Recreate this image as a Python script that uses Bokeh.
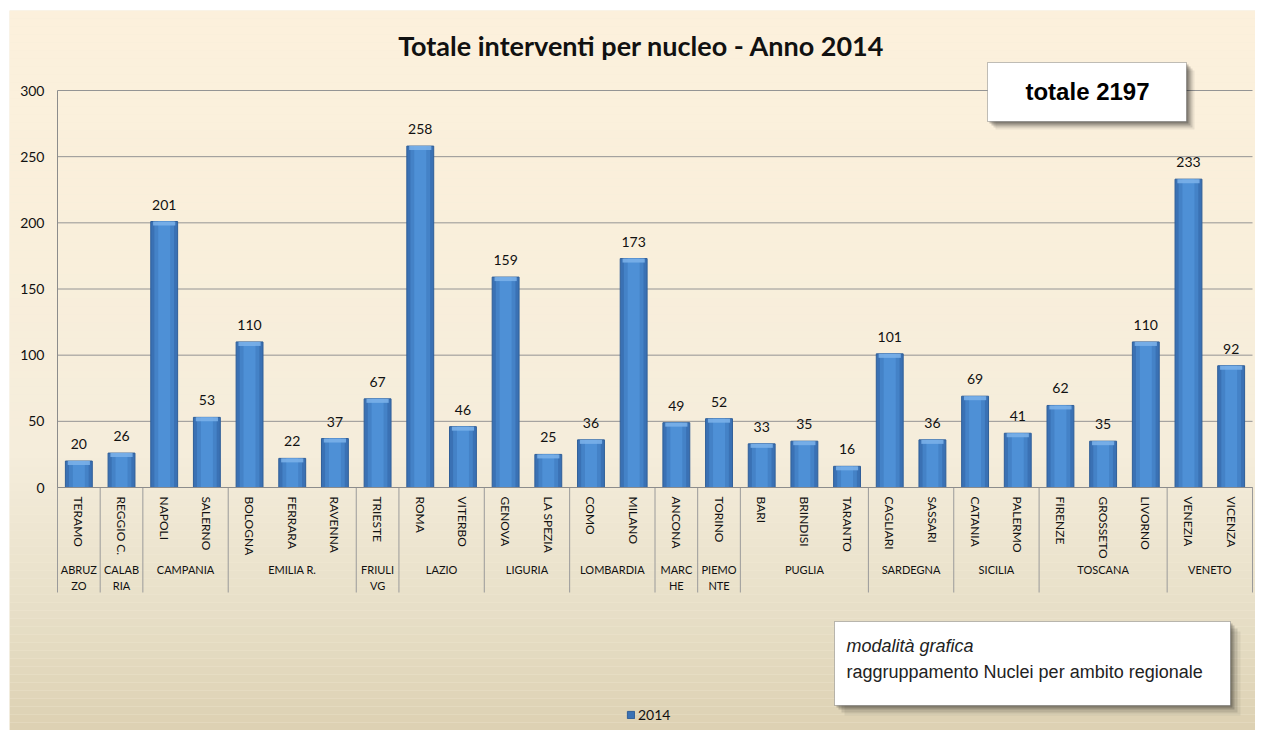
from bokeh.plotting import figure
from bokeh.models import (ColumnDataSource, Label, BoxAnnotation, Legend, LegendItem,
                          SingleIntervalTicker, FixedTicker, Range1d)
from bokeh.core.properties import value
from bokeh.embed import file_html
from bokeh.resources import INLINE

# ---------------- data ----------------
regions = ["ABRUZ\nZO", "CALAB\nRIA", "CAMPANIA", "CAMPANIA",
           "EMILIA R.", "EMILIA R.", "EMILIA R.", "FRIULI\nVG",
           "LAZIO", "LAZIO", "LIGURIA", "LIGURIA", "LOMBARDIA", "LOMBARDIA",
           "MARC\nHE", "PIEMO\nNTE", "PUGLIA", "PUGLIA", "PUGLIA",
           "SARDEGNA", "SARDEGNA", "SICILIA", "SICILIA",
           "TOSCANA", "TOSCANA", "TOSCANA", "VENETO", "VENETO"]
cities = ["TERAMO", "REGGIO C.", "NAPOLI", "SALERNO",
          "BOLOGNA", "FERRARA", "RAVENNA", "TRIESTE",
          "ROMA", "VITERBO", "GENOVA", "LA SPEZIA", "COMO", "MILANO",
          "ANCONA", "TORINO", "BARI", "BRINDISI", "TARANTO",
          "CAGLIARI", "SASSARI", "CATANIA", "PALERMO",
          "FIRENZE", "GROSSETO", "LIVORNO", "VENEZIA", "VICENZA"]
values_2014 = [20, 26, 201, 53, 110, 22, 37, 67, 258, 46, 159, 25, 36, 173,
               49, 52, 33, 35, 16, 101, 36, 69, 41, 62, 35, 110, 233, 92]
series_name = "2014"
y_tick_interval = 50
y_max = 300
title_text = "Totale interventi per nucleo - Anno 2014"
total_text = "totale " + str(sum(values_2014))
note_title = "modalità grafica"
note_text = "raggruppamento Nuclei per ambito regionale"

# ---------------- layout (pixels) ----------------
W, H = 1255, 730
ML, MT = 9, 10                  # white strips of the reference
FW, FH = W - ML, H - MT         # frame = whole cream area
AX_L, AX_R = 57 - ML, 1252 - ML  # plot-area edges inside frame (px from frame left)
AX_T, AX_B = 90 - MT, 487 - MT   # plot-area edges (px from frame top)

n = len(cities)
ux = (AX_R - AX_L) / n           # px per category
uy = (AX_B - AX_T) / y_max       # px per value unit
x_start = -AX_L / ux
x_end = n + (FW - AX_R) / ux
y_end = y_max + AX_T / uy
y_start = -(FH - AX_B) / uy

xs = [i + 0.5 for i in range(n)]
src = ColumnDataSource(dict(x=xs, top=values_2014, label=[str(v) for v in values_2014],
                            cap=[v - 4 / uy for v in values_2014]))

p = figure(width=W, height=H, x_range=Range1d(x_start, x_end),
           y_range=Range1d(y_start, y_end),
           output_backend="svg", toolbar_location=None,
           min_border_left=ML, min_border_right=0,
           min_border_top=MT, min_border_bottom=0)
p.outline_line_color = None
p.border_fill_color = "#ffffff"
p.background_fill_color = "#F4ECD8"

# background gradient bands (screen units: px from frame bottom-left)
stops = [(10, (252, 240, 220)), (250, (249, 239, 219)), (450, (245, 237, 219)),
         (600, (232, 224, 201)), (738, (220, 208, 177))]


def col_at(iy):
    for (y0, c0), (y1, c1) in zip(stops[:-1], stops[1:]):
        if y0 <= iy <= y1:
            t = (iy - y0) / (y1 - y0)
            return "#%02x%02x%02x" % tuple(int(round(a + (b - a) * t)) for a, b in zip(c0, c1))
    return "#%02x%02x%02x" % stops[-1][1]


band = 8
iy = MT
while iy < H:
    p.add_layout(BoxAnnotation(left=0, right=FW, top=H - iy, bottom=H - min(iy + band, H),
                               left_units="screen", right_units="screen",
                               top_units="screen", bottom_units="screen",
                               fill_color=col_at(iy + band / 2), fill_alpha=1,
                               line_color=None, level="underlay"))
    iy += band

# grid
grid_ticks = list(range(0, y_max + 1, y_tick_interval))
p.xgrid.grid_line_color = None
p.ygrid.grid_line_color = None
p.segment(x0=0, x1=n, y0=grid_ticks, y1=grid_ticks, line_color="#949494", line_width=1)

# bars (layered for a cylinder-like shading)
r1 = p.vbar(x="x", top="top", width=0.63, source=src,
            fill_color="#3A71B4", line_color="#2F5E98", line_width=1)
p.vbar(x="x", top="top", width=0.46, source=src, fill_color="#4482C7", line_color=None)
p.vbar(x="x", top="top", width=0.28, source=src, fill_color="#4E90D6", line_color=None)
p.vbar(x="x", top="top", bottom="cap", width=0.52, source=src,
       fill_color="#7DB3EA", fill_alpha=0.85, line_color=None)

p.text(x="x", y="top", text="label", source=src, text_align="center",
       text_baseline="bottom", y_offset=-12, text_font=value("Lato"),
       text_font_size="14px", text_color="#111111")

# y axis (inside frame at x=0)
ya = p.yaxis[0]
ya.fixed_location = 0
ya.bounds = (0, y_max)
ya.ticker = SingleIntervalTicker(interval=y_tick_interval)
ya.axis_line_color = "#8c8c8c"
ya.major_tick_line_color = None
ya.minor_tick_line_color = None
ya.major_label_standoff = 7
ya.major_label_text_font = "Lato"
ya.major_label_text_font_size = "14px"
ya.major_label_text_color = "#111111"

# x axis (inside frame at y=0) with city labels
xa = p.xaxis[0]
xa.fixed_location = 0
xa.bounds = (0, n)
xa.ticker = FixedTicker(ticks=xs)
xa.major_label_overrides = {x: c for x, c in zip(xs, cities)}
xa.axis_line_color = "#8c8c8c"
xa.major_tick_line_color = None
xa.minor_tick_line_color = None
xa.major_label_orientation = "vertical"
xa.major_label_standoff = 3
xa.major_label_text_font = "Lato"
xa.major_label_text_font_size = "12px"
xa.major_label_text_color = "#111111"

# region groups: labels and separators
bounds = [0] + [i for i in range(1, n) if regions[i] != regions[i - 1]] + [n]
grp_x = [(a + b) / 2 for a, b in zip(bounds[:-1], bounds[1:])]
grp_names = [regions[a] for a in bounds[:-1]]
p.text(x=grp_x, y=0, text=grp_names, y_offset=75, text_align="center",
       text_baseline="top", text_font=value("Lato"), text_font_size="11px",
       text_line_height=1.3, text_color="#111111")
sep_depth = 105 / uy
p.segment(x0=bounds, x1=bounds, y0=0, y1=-sep_depth, line_color="#9a9a9a", line_width=1)

# title
p.add_layout(Label(x=641 - ML, y=H - 45, x_units="screen", y_units="screen", text=title_text,
                   text_align="center", text_baseline="middle", text_font="Lato",
                   text_font_style="bold", text_font_size="27px", text_color="#111111"))


def box(l, r, t, b, **kw):
    return BoxAnnotation(left=l - ML, right=r - ML, top=H - t, bottom=H - b,
                         left_units="screen", right_units="screen",
                         top_units="screen", bottom_units="screen", **kw)


# total box with shadow
for off, a in [(8, 0.07), (6, 0.12), (4, 0.18), (2, 0.22)]:
    p.add_layout(box(987 + off, 1186 + off, 62 + off, 121 + off,
                     fill_color="#000000", fill_alpha=a, line_color=None))
p.add_layout(box(987, 1186, 62, 121, fill_color="#ffffff", fill_alpha=1,
                 line_color="#333333", line_width=1))
p.add_layout(Label(x=1087 - ML, y=H - 91, x_units="screen", y_units="screen", text=total_text,
                   text_align="center", text_baseline="middle", text_font="Liberation Sans",
                   text_font_style="bold", text_font_size="24px", text_color="#000000"))

# note box with shadow
for off, a in [(10, 0.06), (7, 0.11), (4, 0.16), (2, 0.2)]:
    p.add_layout(box(834 + off, 1230 + off, 621 + off, 705 + off,
                     fill_color="#000000", fill_alpha=a, line_color=None))
p.add_layout(box(834, 1230, 621, 705, fill_color="#ffffff", fill_alpha=1,
                 line_color="#333333", line_width=1))
p.add_layout(Label(x=846 - ML, y=H - 645, x_units="screen", y_units="screen", text=note_title,
                   text_align="left", text_baseline="middle", text_font="Liberation Sans",
                   text_font_style="italic", text_font_size="18px", text_color="#222222"))
p.add_layout(Label(x=846 - ML, y=H - 671, x_units="screen", y_units="screen", text=note_text,
                   text_align="left", text_baseline="middle", text_font="Liberation Sans",
                   text_font_size="18px", text_color="#222222"))

# legend
legend = Legend(items=[LegendItem(label=series_name, renderers=[r1])],
                location=(626 - ML, H - 723), orientation="horizontal",
                background_fill_alpha=0, border_line_color=None,
                glyph_width=9, glyph_height=9, label_height=14, padding=2,
                spacing=0, label_standoff=3, margin=0,
                label_text_font="Lato", label_text_font_size="14px",
                label_text_color="#111111")
p.add_layout(legend, "center")

open("out.html", "w").write(file_html(p, INLINE))
